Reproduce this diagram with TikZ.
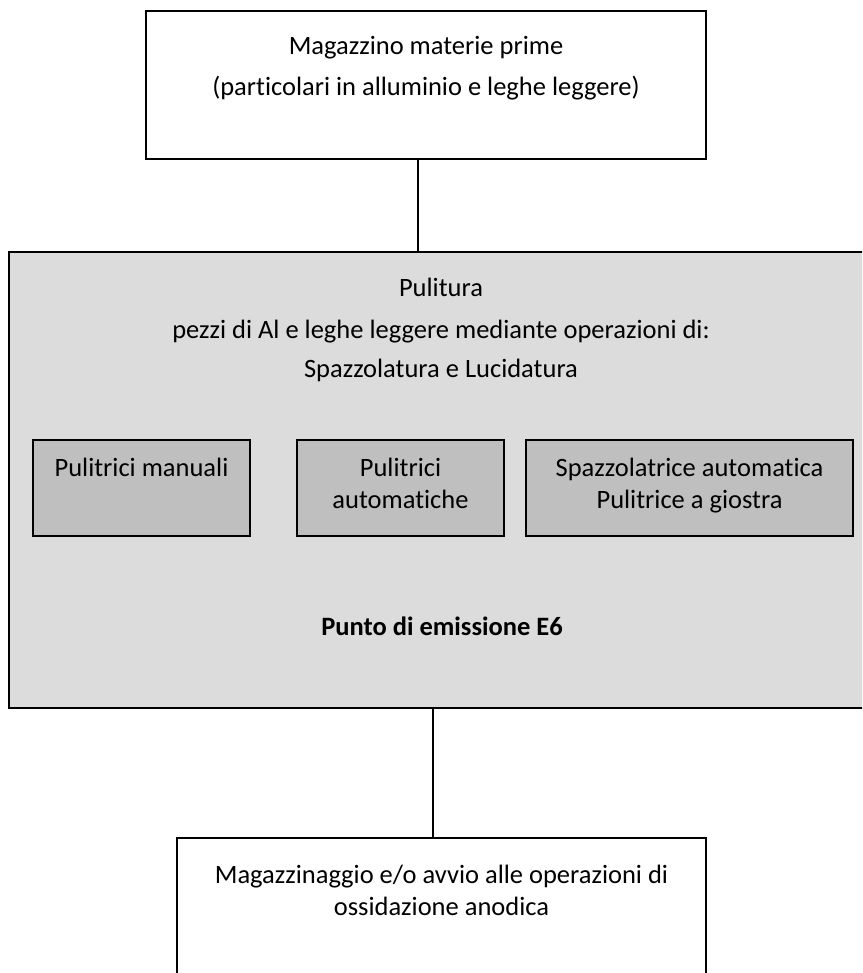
\documentclass[tikz,border=0pt]{standalone}
\usepackage{fontspec}
\setmainfont[Ligatures=NoCommon]{Carlito}
\definecolor{panelgray}{RGB}{220,220,220}
\definecolor{unitgray}{RGB}{191,191,191}
\begin{document}
\begin{tikzpicture}[x=1pt,y=-1pt,
  box/.style={draw=black,line width=2pt,rectangle,inner sep=0pt,outer sep=0pt},
  panel/.style={box,fill=panelgray},
  unit/.style={box,fill=unitgray,line width=1.8pt},
  txt/.style={anchor=base,inner sep=0pt,font=\fontsize{26.5}{32}\selectfont},
  link/.style={draw=black,line width=1.5pt}]
\useasboundingbox (0,0) rectangle (862,973);
\begin{scope}
\clip (0,0) rectangle (862,973);
% boxes
\node[box,minimum width=560pt,minimum height=148pt] (raw) at (426,85) {};
\node[panel,minimum width=871pt,minimum height=456pt] (clean) at (444.5,480) {};
\node[unit,minimum width=217pt,minimum height=96pt] (manual) at (141.5,488) {};
\node[unit,minimum width=207pt,minimum height=96pt] (auto) at (400.5,488) {};
\node[unit,minimum width=327pt,minimum height=96pt] (brush) at (689.5,488) {};
\node[box,minimum width=529pt,minimum height=152pt] (store) at (441.5,914) {};
% connectors
\draw[link] ([xshift=-8pt]raw.south) -- ([xshift=-8pt]raw.south |- clean.north);
\draw[link] (store.north -| 433,0) coordinate (sn) -- (sn |- clean.south);
\end{scope}
% labels
\node[txt] (raw1) at (426,55) {Magazzino materie prime};
\node[txt] (raw2) at (426,96) {(particolari in alluminio e leghe leggere)};
\node[txt] (cl1) at (441,296) {Pulitura};
\node[txt] (cl2) at (441,338) {pezzi di Al e leghe leggere mediante operazioni di:};
\node[txt] (cl3) at (441,377) {Spazzolatura e Lucidatura};
\node[txt] (m1) at (141.5,476) {Pulitrici manuali};
\node[txt] (a1) at (400.5,476) {Pulitrici};
\node[txt] (a2) at (400.5,508) {automatiche};
\node[txt] (b1) at (689.5,476) {Spazzolatrice automatica};
\node[txt] (b2) at (689.5,508) {Pulitrice a giostra};
\node[txt,font=\fontsize{26.5}{32}\selectfont\bfseries] (emis) at (442,635) {Punto di emissione E6};
\node[txt] (st1) at (441.5,883) {Magazzinaggio e/o avvio alle operazioni di};
\node[txt] (st2) at (441.5,915) {ossidazione anodica};
\end{tikzpicture}
\end{document}
